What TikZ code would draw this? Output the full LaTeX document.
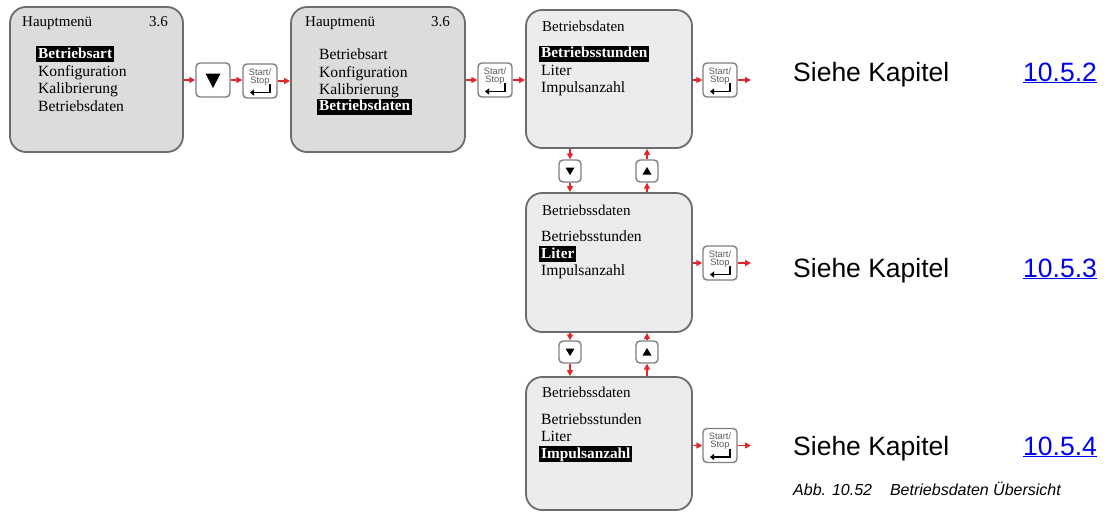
\documentclass[tikz,border=0pt]{standalone}
\usepackage{fontspec}
\setmainfont{Liberation Serif}
\newfontfamily\arialfont{Liberation Sans}
\usetikzlibrary{arrows.meta}

\definecolor{panelA}{HTML}{DCDCDA}
\definecolor{panelB}{HTML}{ECECEE}
\definecolor{frame}{HTML}{6C6C6C}
\definecolor{keyframe}{HTML}{7E7E7E}
\definecolor{keyink}{HTML}{5A5A5A}
\definecolor{flow}{HTML}{E3262B}
\definecolor{linkblue}{HTML}{0000F0}

\tikzset{
  panel/.style={draw=frame, line width=1.8pt, rounded corners=16pt, inner sep=0pt},
  keybox/.style={draw=keyframe, fill=white, line width=1.4pt, rounded corners=4pt, inner sep=0pt},
  keylabel/.style={font=\arialfont\fontsize{9.3}{10}\selectfont, text=keyink, inner sep=0pt},
  enter/.style={line width=1.6pt, -{Triangle[length=4pt,width=6pt]}},
  flow/.style={draw=flow, line width=1.4pt, -{Triangle[length=6pt,width=6pt]}},
  item/.style={anchor=west, inner xsep=2pt, inner ysep=1pt, text height=11pt, text depth=3pt,
               font=\fontsize{15.6}{18}\selectfont},
  sel/.style={item, fill=black, text=white, font=\fontsize{15.3}{18}\selectfont\bfseries},
  title/.style={item, font=\fontsize{15}{18}\selectfont},
  refer/.style={anchor=base west, inner sep=0pt, font=\arialfont\fontsize{26.5}{30}\selectfont},
  link/.style={refer, text=linkblue},
  startkey/.pic={
    \node[keybox, minimum size=34pt] (-box) {};
    \node[keylabel] (-l1) at (0,-9) {Start/};
    \node[keylabel] (-l2) at (0,0) {Stop};
    \draw[enter] (10,3) -- (10,11.5) -- (-10,11.5);
  },
  bigdown/.pic={
    \node[keybox, minimum size=34pt] (-box) {};
    \fill (-7.5,-6.5) -- (7.5,-6.5) -- (0,8) -- cycle;
  },
  smalldown/.pic={
    \node[keybox, minimum size=22pt] (-box) {};
    \fill (-4.5,-3.5) -- (4.5,-3.5) -- (0,4) -- cycle;
  },
  smallup/.pic={
    \node[keybox, minimum size=22pt] (-box) {};
    \fill (-4.5,3.5) -- (4.5,3.5) -- (0,-4) -- cycle;
  },
}

\begin{document}
\begin{tikzpicture}[x=1pt, y=-1pt]
\useasboundingbox (0,0) rectangle (1107,512);

% menu screens
\node[panel, fill=panelA, minimum width=173pt, minimum height=145pt] (p1) at (96.5,79.5) {};
\node[panel, fill=panelA, minimum width=174pt, minimum height=145pt] (p2) at (378,79.5) {};
\node[panel, fill=panelB, minimum width=166pt, minimum height=138pt] (p3) at (609,79) {};
\node[panel, fill=panelB, minimum width=166pt, minimum height=139pt] (p4) at (609,262.5) {};
\node[panel, fill=panelB, minimum width=166pt, minimum height=133pt] (p5) at (609,443.5) {};

% main menu, first entry selected
\node[title] (p1t) at (20,22) {Hauptmenü};
\node[title, anchor=east] (p1v) at (170,22) {3.6};
\node[sel]  (p1a) at (36,54) {Betriebsart};
\node[item] (p1b) at (36,72) {Konfiguration};
\node[item] (p1c) at (36,89.5) {Kalibrierung};
\node[item] (p1d) at (36,107) {Betriebsdaten};

% main menu, last entry selected
\node[title] (p2t) at (303,22) {Hauptmenü};
\node[title, anchor=east] (p2v) at (452,22) {3.6};
\node[item] (p2a) at (317,55.5) {Betriebsart};
\node[item] (p2b) at (317,73) {Konfiguration};
\node[item] (p2c) at (317,90) {Kalibrierung};
\node[sel]  (p2d) at (317,106.5) {Betriebsdaten};

% operating data, three selections
\node[title] (p3t) at (540,27) {Betriebsdaten};
\node[sel]  (p3a) at (539,53.5) {Betriebsstunden};
\node[item] (p3b) at (539,71.5) {Liter};
\node[item] (p3c) at (539,88.5) {Impulsanzahl};

\node[title] (p4t) at (540,211) {Betriebssdaten};
\node[item] (p4a) at (539,237.5) {Betriebsstunden};
\node[sel]  (p4b) at (539,254) {Liter};
\node[item] (p4c) at (539,271) {Impulsanzahl};

\node[title] (p5t) at (540,393) {Betriebssdaten};
\node[item] (p5a) at (539,420.5) {Betriebsstunden};
\node[item] (p5b) at (539,437.5) {Liter};
\node[sel]  (p5c) at (539,454) {Impulsanzahl};

% keys
\pic (d1) at (213,80) {bigdown};
\pic (s1) at (260,81) {startkey};
\pic (s2) at (495,80) {startkey};
\pic (s3) at (720,80) {startkey};
\pic (s4) at (720,263) {startkey};
\pic (s5) at (720,445.5) {startkey};
\pic (dn1) at (570,171) {smalldown};
\pic (up1) at (647,171) {smallup};
\pic (dn2) at (570,352) {smalldown};
\pic (up2) at (647,352) {smallup};

% free ends of the outgoing arrows
\coordinate (o3) at (751,80);
\coordinate (o4) at (751,263);
\coordinate (o5) at (751,445.5);

% horizontal flow
\draw[flow] (p1.east |- d1-box.west) -- (d1-box.west);
\draw[flow] (d1-box.east) -- (s1-box.west |- d1-box.east);
\draw[flow] (s1-box.east) -- (p2.west |- s1-box.east);
\draw[flow] (p2.east |- s2-box.west) -- (s2-box.west);
\draw[flow] (s2-box.east) -- (p3.west |- s2-box.east);
\draw[flow] (p3.east |- s3-box.west) -- (s3-box.west);
\draw[flow] (s3-box.east) -- (o3);
\draw[flow] (p4.east |- s4-box.west) -- (s4-box.west);
\draw[flow] (s4-box.east) -- (o4);
\draw[flow] (p5.east |- s5-box.west) -- (s5-box.west);
\draw[flow] (s5-box.east) -- (o5);

% vertical flow
\draw[flow] (p3.south -| dn1-box.south) -- (dn1-box.north);
\draw[flow] (dn1-box.south) -- (p4.north -| dn1-box.south);
\draw[flow] (p4.north -| up1-box.south) -- (up1-box.south);
\draw[flow] (up1-box.north) -- (p3.south -| up1-box.north);
\draw[flow] (p4.south -| dn2-box.south) -- (dn2-box.north);
\draw[flow] (dn2-box.south) -- (p5.north -| dn2-box.south);
\draw[flow] (p5.north -| up2-box.south) -- (up2-box.south);
\draw[flow] (up2-box.north) -- (p4.south -| up2-box.north);

% chapter references
\node[refer] (r1) at (793,81) {Siehe Kapitel};
\node[link]  (c1) at (1023,81) {\underline{10.5.2}};
\node[refer] (r2) at (793,277) {Siehe Kapitel};
\node[link]  (c2) at (1023,277) {\underline{10.5.3}};
\node[refer] (r3) at (793,455) {Siehe Kapitel};
\node[link]  (c3) at (1023,455) {\underline{10.5.4}};

% caption
\node[anchor=base west, inner sep=0pt, font=\arialfont\itshape\fontsize{16}{18}\selectfont]
  (cap) at (793,495) {Abb. 10.52\hspace{18pt}Betriebsdaten Übersicht};
\end{tikzpicture}
\end{document}
